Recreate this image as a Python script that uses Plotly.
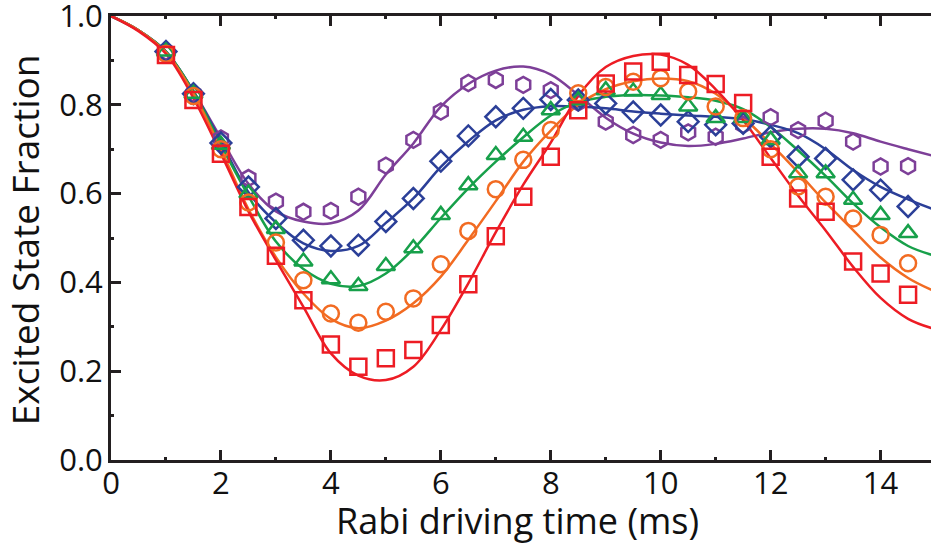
import plotly.graph_objects as go

# ---- data ----
t_data = [1, 1.5, 2, 2.5, 3, 3.5, 4, 4.5, 5, 5.5, 6, 6.5, 7, 7.5, 8, 8.5, 9, 9.5,
          10, 10.5, 11, 11.5, 12, 12.5, 13, 13.5, 14, 14.5]

purple_pts = [0.92, 0.825, 0.724, 0.635, 0.582, 0.559, 0.561, 0.593, 0.663, 0.721, 0.785, 0.849,
              0.856, 0.845, 0.833, 0.805, 0.762, 0.732, 0.721, 0.738, 0.728, 0.755, 0.772, 0.743,
              0.764, 0.717, 0.661, 0.662]
blue_pts = [0.92, 0.825, 0.714, 0.615, 0.544, 0.495, 0.482, 0.484, 0.537, 0.589, 0.673, 0.73,
            0.773, 0.792, 0.812, 0.811, 0.803, 0.784, 0.777, 0.762, 0.755, 0.758, 0.728, 0.683,
            0.679, 0.631, 0.608, 0.571]
green_pts = [0.92, 0.825, 0.71, 0.60, 0.52, 0.447, 0.407, 0.392, 0.437, 0.477, 0.552, 0.619,
             0.687, 0.728, 0.788, 0.81, 0.833, 0.83, 0.822, 0.796, 0.77, 0.77, 0.721, 0.646,
             0.646, 0.586, 0.552, 0.511]
orange_pts = [0.915, 0.82, 0.70, 0.58, 0.49, 0.405, 0.33, 0.309, 0.334, 0.364, 0.441, 0.516,
              0.61, 0.676, 0.743, 0.826, 0.84, 0.852, 0.86, 0.83, 0.796, 0.77, 0.70, 0.616,
              0.593, 0.544, 0.507, 0.443]
red_pts = [0.912, 0.811, 0.69, 0.57, 0.46, 0.36, 0.26, 0.21, 0.229, 0.248, 0.304, 0.396,
           0.504, 0.593, 0.683, 0.788, 0.848, 0.875, 0.897, 0.867, 0.847, 0.804, 0.683, 0.589,
           0.559, 0.447, 0.42, 0.372]

t_fit = [0, 0.5, 1, 1.5, 2, 2.5, 3, 3.5, 4, 4.5, 5, 5.5, 6, 6.5, 7, 7.5, 8, 8.5, 9, 9.5,
         10, 10.5, 11, 11.5, 12, 12.5, 13, 13.5, 14, 14.5, 14.93]

purple_fit = [1.0, 0.968, 0.92, 0.83, 0.725, 0.622, 0.56, 0.537, 0.533, 0.562, 0.643, 0.713,
              0.796, 0.847, 0.877, 0.886, 0.868, 0.822, 0.771, 0.735, 0.715, 0.707, 0.712,
              0.724, 0.738, 0.746, 0.746, 0.736, 0.717, 0.70, 0.686]
blue_fit = [1.0, 0.968, 0.92, 0.83, 0.717, 0.603, 0.535, 0.488, 0.471, 0.482, 0.534, 0.589,
            0.66, 0.718, 0.765, 0.789, 0.797, 0.796, 0.792, 0.785, 0.78, 0.776, 0.773, 0.768,
            0.755, 0.736, 0.70, 0.653, 0.615, 0.587, 0.566]
green_fit = [1.0, 0.968, 0.92, 0.83, 0.71, 0.595, 0.492, 0.43, 0.397, 0.392, 0.42, 0.475,
             0.545, 0.612, 0.672, 0.727, 0.776, 0.806, 0.818, 0.822, 0.821, 0.817, 0.809, 0.79,
             0.75, 0.697, 0.64, 0.578, 0.524, 0.482, 0.462]
orange_fit = [1.0, 0.968, 0.918, 0.825, 0.70, 0.565, 0.457, 0.375, 0.318, 0.297, 0.314, 0.353,
              0.413, 0.496, 0.583, 0.672, 0.742, 0.80, 0.835, 0.853, 0.859, 0.853, 0.825, 0.772,
              0.712, 0.648, 0.58, 0.518, 0.456, 0.41, 0.383]
red_fit = [1.0, 0.966, 0.915, 0.815, 0.69, 0.56, 0.45, 0.345, 0.24, 0.19, 0.18, 0.21,
           0.293, 0.398, 0.513, 0.62, 0.715, 0.82, 0.885, 0.91, 0.913, 0.89, 0.835, 0.765,
           0.68, 0.595, 0.517, 0.435, 0.365, 0.318, 0.297]

x_ticks = [0, 2, 4, 6, 8, 10, 12, 14]
y_ticks = [0.0, 0.2, 0.4, 0.6, 0.8, 1.0]

series = [
    ("purple", purple_pts, purple_fit, "#7d3f98", "hexagon-open"),
    ("blue", blue_pts, blue_fit, "#2b3f98", "diamond-open"),
    ("green", green_pts, green_fit, "#17a04a", "triangle-up-open"),
    ("orange", orange_pts, orange_fit, "#f26b22", "circle-open"),
    ("red", red_pts, red_fit, "#ed1c24", "square-open"),
]

fig = go.Figure()
for name, pts, fit, col, sym in series:
    fig.add_trace(go.Scatter(x=t_fit, y=fit, mode="lines", name=name + " fit",
                             line=dict(color=col, width=2.5, shape="spline", smoothing=1.0),
                             showlegend=False, hoverinfo="skip"))
for name, pts, fit, col, sym in series:
    fig.add_trace(go.Scatter(x=t_data, y=pts, mode="markers", name=name,
                             marker=dict(symbol=sym, size=16, color=col,
                                         line=dict(color=col, width=2.5)),
                             showlegend=False))

axis_col = "#231f20"
fig.update_layout(
    width=931, height=548,
    margin=dict(l=111, r=0, t=16, b=88, autoexpand=False),
    plot_bgcolor="white", paper_bgcolor="white",
    font=dict(family="Open Sans", color="#111111"),
    showlegend=False,
)
fig.update_xaxes(
    range=[0, 14.917], tickvals=x_ticks, ticktext=[str(v) for v in x_ticks],
    automargin=False,
    showgrid=False, zeroline=False, showline=True, linewidth=3, linecolor=axis_col,
    mirror="allticks", ticks="inside", ticklen=10, tickwidth=2.5, tickcolor=axis_col,
    minor=dict(dtick=1, tick0=1, ticks="inside", ticklen=3, tickwidth=2.5, tickcolor=axis_col),
    tickfont=dict(size=31, family="Open Sans", color="#111111"), ticklabelstandoff=-6,
    ticklabeloverflow="allow",
)
fig.update_yaxes(
    range=[0, 1.0], tickvals=y_ticks, ticktext=["%.1f" % v for v in y_ticks],
    automargin=False,
    showgrid=False, zeroline=False, showline=True, linewidth=3, linecolor=axis_col,
    ticks="inside", ticklen=10, tickwidth=2.5, tickcolor=axis_col,
    minor=dict(dtick=0.2, tick0=0.1, ticks="inside", ticklen=3, tickwidth=2.5, tickcolor=axis_col),
    tickfont=dict(size=31, family="Open Sans", color="#111111"), ticklabelstandoff=-1,
    ticklabeloverflow="allow",
)
fig.add_annotation(text="Rabi driving time (ms)", xref="paper", yref="paper",
                   x=0.4957, y=-0.137, xanchor="center", yanchor="middle", showarrow=False,
                   font=dict(size=36, family="Open Sans", color="#111111"))
fig.add_annotation(text="Excited State Fraction", xref="paper", yref="paper",
                   x=-0.106, y=0.495, xanchor="center", yanchor="middle", showarrow=False,
                   textangle=-90,
                   font=dict(size=37, family="Open Sans", color="#111111"))

# remove the default 8 px page margin so the figure sits at the window's top-left corner
fig.write_html("out.html", config={"displayModeBar": False},
               post_script="document.body.style.margin='0px';")
